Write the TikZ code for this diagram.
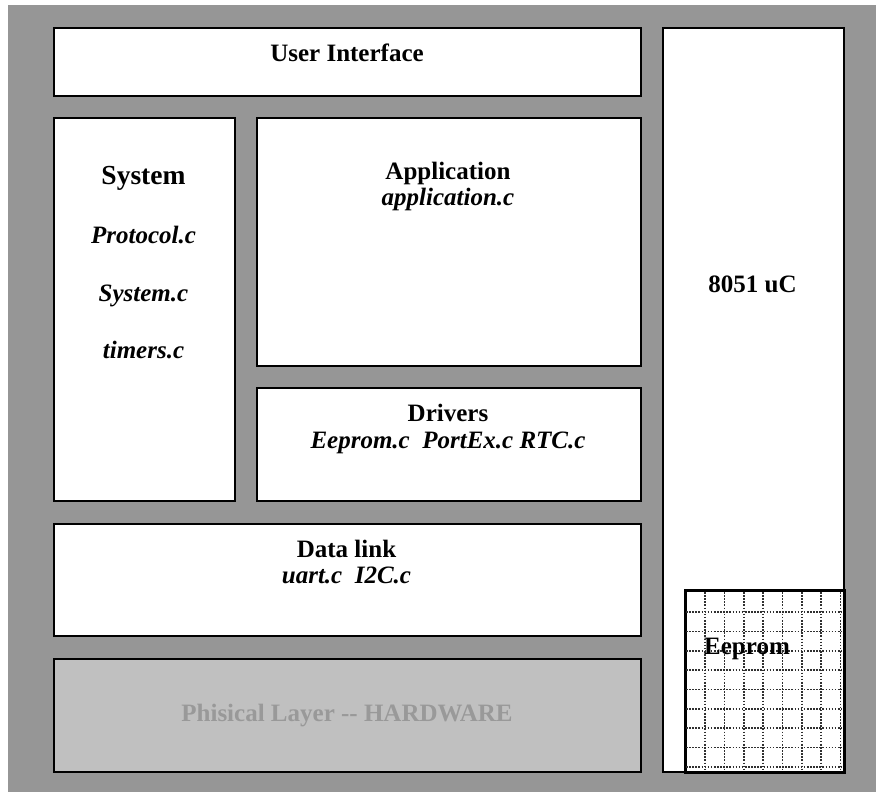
\documentclass[tikz,border=0pt]{standalone}
\usepackage{fontspec}
\setmainfont{Liberation Serif}
\definecolor{bggray}{HTML}{969696}
\definecolor{hwgray}{HTML}{C0C0C0}
\definecolor{hwtext}{HTML}{999999}
\definecolor{dotgray}{HTML}{303030}
\begin{document}
\begin{tikzpicture}[x=1pt,y=-1pt,
  box/.style={draw=black, line width=1.8pt, fill=white, rectangle, inner sep=0pt, anchor=north west},
  lbl/.style={font=\fontsize{25}{27}\selectfont\bfseries, anchor=base, inner sep=0pt},
  ilbl/.style={font=\fontsize{25}{27}\selectfont\bfseries\itshape, anchor=base, inner sep=0pt},
  gridline/.style={draw=dotgray, line width=1.6pt, dash pattern=on 1.6pt off 1.5pt}]
\useasboundingbox (0,0) rectangle (876,792);
\fill[white] (0,0) rectangle (876,792);
\fill[bggray] (8,5) rectangle (876,792);
% boxes
\node[box, minimum width=587pt, minimum height=68pt] (ui) at (53,27) {};
\node[box, minimum width=181pt, minimum height=383pt] (sys) at (53,117) {};
\node[box, minimum width=384pt, minimum height=248pt] (app) at (256,117) {};
\node[box, minimum width=384pt, minimum height=113pt] (drv) at (256,387) {};
\node[box, minimum width=587pt, minimum height=112pt] (dl) at (53,523) {};
\node[box, fill=hwgray, minimum width=587pt, minimum height=113pt] (phy) at (53,658) {};
\node[box, minimum width=181pt, minimum height=744pt] (uc) at (662,27) {};
\node[box, minimum width=158pt, minimum height=181pt] (ee) at (685,590) {};
% eeprom grid pattern
\begin{scope}
\clip (ee.north west) rectangle (ee.south east);
\foreach \i in {0,...,7} \draw[gridline] ({705+19.35*\i},592) -- ({705+19.35*\i},770);
\foreach \j in {0,...,8} \draw[gridline] (686,{612+19.35*\j}) -- (842,{612+19.35*\j});
\end{scope}
\draw[line width=1.8pt] (ee.north west) rectangle (ee.south east);
% labels
\node[lbl] (tui) at (347,62) {User Interface};
\node[lbl, font=\fontsize{27.5}{30}\selectfont\bfseries] (tsys) at (143.5,184) {System};
\node[ilbl] (tprot) at (143.5,243) {Protocol.c};
\node[ilbl] (tsysc) at (143.5,301) {System.c};
\node[ilbl] (ttim) at (143.5,358) {timers.c};
\node[lbl] (tapp) at (448,179) {Application};
\node[ilbl] (tappc) at (448,205) {application.c};
\node[lbl] (tdrv) at (448,421) {Drivers};
\node[ilbl] (tdrvc) at (448,448) {Eeprom.c\ \ PortEx.c RTC.c};
\node[lbl] (tdl) at (346.5,557) {Data link};
\node[ilbl] (tdlc) at (346.5,583) {uart.c\ \ I2C.c};
\node[lbl, text=hwtext] (tphy) at (347,721) {Phisical Layer -{}- HARDWARE};
\node[lbl] (tuc) at (752.5,292) {8051 uC};
\node[lbl] (tee) at (747,654) {Eeprom};
\end{tikzpicture}
\end{document}
